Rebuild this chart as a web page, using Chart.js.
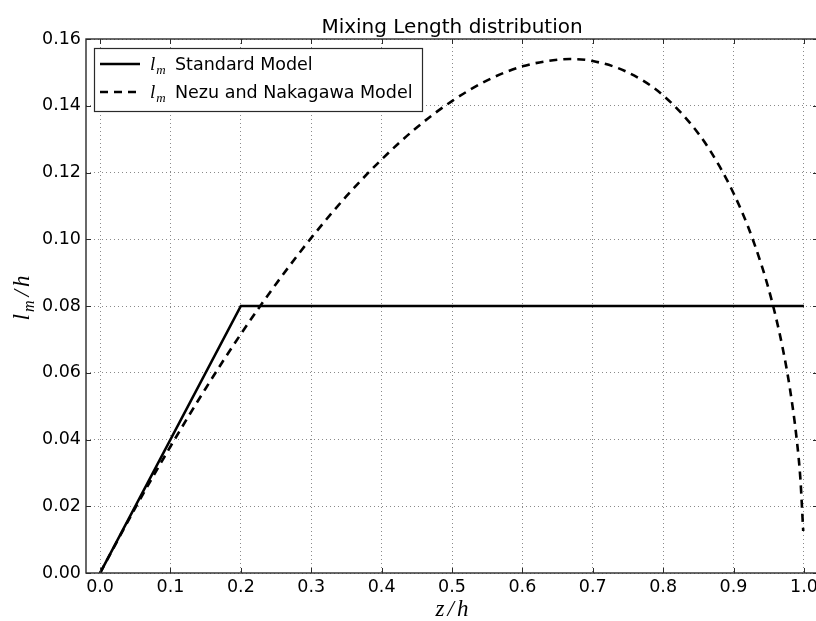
<!DOCTYPE html>
<html>
<head>
<meta charset="utf-8">
<script src="https://cdn.jsdelivr.net/npm/chart.js@4.4.0/dist/chart.umd.min.js"></script>
<style>
html,body{margin:0;padding:0;background:#fff;overflow:hidden;}
canvas{display:block;}
</style>
</head>
<body>
<canvas id="c" width="818" height="621" style="width:818px;height:621px"></canvas>
<script>
// ---- data ----
const chartTitle = 'Mixing Length distribution';
const standardZ = [0.0, 0.2, 1.0];
const standardL = [0.0, 0.08, 0.08];
const nezuZ = [0, 0.05, 0.1, 0.15, 0.2, 0.25, 0.3, 0.35, 0.4, 0.45, 0.5, 0.55, 0.6, 0.65, 0.667, 0.7, 0.75, 0.8, 0.85, 0.88, 0.9, 0.92, 0.94, 0.95, 0.96, 0.97, 0.98, 0.99, 0.995, 0.999];
const nezuL = [0, 0.0195, 0.0379, 0.0553, 0.0716, 0.0866, 0.1004, 0.1129, 0.1239, 0.1335, 0.1414, 0.1476, 0.1518, 0.1538, 0.1540, 0.1534, 0.1500, 0.1431, 0.1317, 0.1219, 0.1138, 0.1041, 0.0921, 0.0850, 0.0768, 0.0672, 0.0554, 0.0396, 0.0281, 0.0126];
const xTickValues = [0.0, 0.1, 0.2, 0.3, 0.4, 0.5, 0.6, 0.7, 0.8, 0.9, 1.0];
const xTickLabels = ['0.0','0.1','0.2','0.3','0.4','0.5','0.6','0.7','0.8','0.9','1.0'];
const yTickValues = [0.00, 0.02, 0.04, 0.06, 0.08, 0.10, 0.12, 0.14, 0.16];
const yTickLabels = ['0.00','0.02','0.04','0.06','0.08','0.10','0.12','0.14','0.16'];
const legendLabels = ['Standard Model', 'Nezu and Nakagawa Model'];

const toPts = (xs, ys) => xs.map((x, i) => ({x: x, y: ys[i]}));

const SANS = '"DejaVu Sans", sans-serif';
const SERIF = '"Liberation Serif", "DejaVu Serif", serif';
const tickFont = {family: '"DejaVu Sans", sans-serif', size: 17.5};

// draw a sequence of [text, size, dy, gapAfter] parts, italic serif; returns width
function drawParts(ctx, parts, x, y, measureOnly) {
  let cx = x;
  parts.forEach(p => {
    ctx.font = 'italic ' + p[1] + 'px ' + SERIF;
    if (!measureOnly) ctx.fillText(p[0], cx, y + p[2]);
    cx += ctx.measureText(p[0]).width + p[3];
  });
  return cx - x;
}

const decor = {
  id: 'decor',
  afterDatasetsDraw(chart) {
    const ctx = chart.ctx;
    const a = chart.chartArea;
    const xs = chart.scales.x, ys = chart.scales.y;
    ctx.save();
    // frame
    ctx.strokeStyle = '#2a2a2a';
    ctx.lineWidth = 1.4;
    ctx.strokeRect(a.left, a.top, a.right - a.left, a.bottom - a.top);
    // inward ticks
    ctx.lineWidth = 1;
    const tl = 5;
    ctx.beginPath();
    xTickValues.forEach(v => {
      const px = Math.round(xs.getPixelForValue(v)) + 0.5;
      ctx.moveTo(px, a.bottom); ctx.lineTo(px, a.bottom - tl);
      ctx.moveTo(px, a.top); ctx.lineTo(px, a.top + tl);
    });
    yTickValues.forEach(v => {
      const py = Math.round(ys.getPixelForValue(v)) + 0.5;
      ctx.moveTo(a.left, py); ctx.lineTo(a.left + tl, py);
      ctx.moveTo(a.right, py); ctx.lineTo(a.right - tl, py);
    });
    ctx.stroke();
    // title
    ctx.fillStyle = '#000';
    ctx.font = '20px ' + SANS;
    ctx.textAlign = 'center';
    ctx.textBaseline = 'alphabetic';
    ctx.fillText(chartTitle, (a.left + a.right) / 2, 33);
    ctx.textAlign = 'left';
    // x title z/h
    const zParts = [['z', 23, 0, 3], ['/', 23, 0, 3], ['h', 23, 0, 0]];
    const zw = drawParts(ctx, zParts, 0, 0, true);
    drawParts(ctx, zParts, (a.left + a.right) / 2 - zw / 2, 616, false);
    // y title l_m/h rotated
    ctx.save();
    ctx.translate(29, 298);
    ctx.rotate(-Math.PI / 2);
    const yParts = [['l', 23, 0, 2], ['m', 16, 5, 4], ['/', 23, 0, 3], ['h', 23, 0, 0]];
    const yw = drawParts(ctx, yParts, 0, 0, true);
    drawParts(ctx, yParts, -yw / 2, 0, false);
    ctx.restore();
    // legend
    const lx = 94, ly = 48, lw = 328, lh = 63;
    ctx.fillStyle = '#fff';
    ctx.fillRect(lx, ly, lw, lh);
    ctx.strokeStyle = '#2a2a2a';
    ctx.lineWidth = 1.2;
    ctx.strokeRect(lx + 0.5, ly + 0.5, lw, lh);
    const rows = [64, 92];
    rows.forEach((ry, i) => {
      ctx.strokeStyle = '#000';
      ctx.lineWidth = 2.6;
      ctx.setLineDash(i === 0 ? [] : [8, 6]);
      ctx.beginPath();
      ctx.moveTo(100, ry); ctx.lineTo(140, ry);
      ctx.stroke();
      ctx.setLineDash([]);
      ctx.fillStyle = '#000';
      drawParts(ctx, [['l', 19, 0, 1], ['m', 13, 4, 0]], 150, ry + 6, false);
      ctx.font = '17.5px ' + SANS;
      ctx.fillText(legendLabels[i], 175, ry + 6);
    });
    ctx.restore();
  }
};

new Chart(document.getElementById('c'), {
  type: 'line',
  data: {
    datasets: [
      {
        label: legendLabels[0],
        data: toPts(standardZ, standardL),
        borderColor: '#000',
        borderWidth: 2.6,
        pointRadius: 0,
        tension: 0,
        fill: false
      },
      {
        label: legendLabels[1],
        data: toPts(nezuZ, nezuL),
        borderColor: '#000',
        borderWidth: 2.6,
        borderDash: [8, 6],
        pointRadius: 0,
        cubicInterpolationMode: 'monotone',
        fill: false
      }
    ]
  },
  options: {
    responsive: false,
    animation: false,
    devicePixelRatio: 1,
    layout: {padding: {top: 39, left: 0, right: 0, bottom: 0}},
    plugins: {legend: {display: false}, title: {display: false}, tooltip: {enabled: false}},
    scales: {
      x: {
        type: 'linear',
        min: -0.02, max: 1.02,
        afterBuildTicks: s => { s.ticks = xTickValues.map(v => ({value: v})); },
        afterFit: s => { s.height = 48; s.paddingLeft = 0; s.paddingRight = 0; },
        ticks: {
          callback: (v, i) => xTickLabels[i],
          font: tickFont, color: '#000', padding: 4, maxRotation: 0, autoSkip: false
        },
        grid: {color: '#8a8a8a', lineWidth: 1, drawTicks: false},
        border: {display: false, dash: [1, 3]}
      },
      y: {
        type: 'linear',
        min: 0, max: 0.16,
        afterBuildTicks: s => { s.ticks = yTickValues.map(v => ({value: v})); },
        afterFit: s => { s.width = 86; s.paddingTop = 0; s.paddingBottom = 0; },
        ticks: {
          callback: (v, i) => yTickLabels[i],
          font: tickFont, color: '#000', padding: 5, autoSkip: false
        },
        grid: {color: '#8a8a8a', lineWidth: 1, drawTicks: false},
        border: {display: false, dash: [1, 3]}
      }
    }
  },
  plugins: [decor]
});
</script>
</body>
</html>
